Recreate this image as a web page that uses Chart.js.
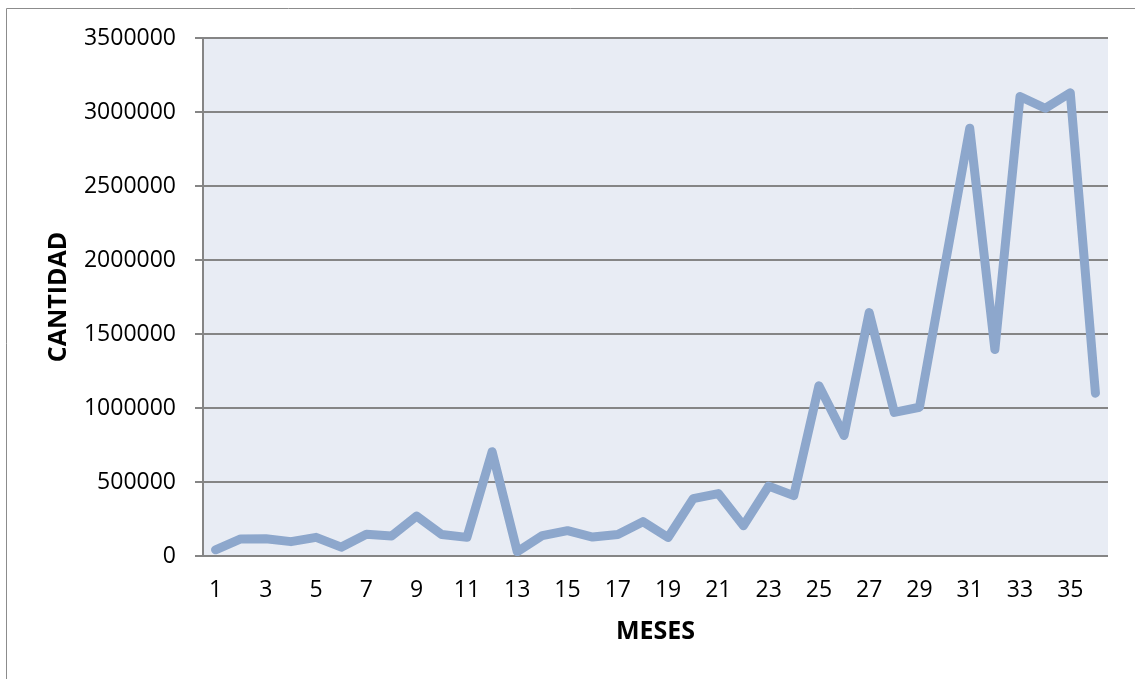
<!DOCTYPE html>
<html>
<head>
<meta charset="utf-8">
<title>CANTIDAD por MESES</title>
<script src="https://cdn.jsdelivr.net/npm/chart.js@4.4.1/dist/chart.umd.min.js"></script>
<style>
  html, body { margin: 0; padding: 0; background: #ffffff; }
  #wrap { position: relative; width: 1135px; height: 679px; }
</style>
</head>
<body>
<div id="wrap"><canvas id="chart" width="1135" height="679"></canvas></div>
<script>
// Monthly quantities, months 1..36
const meses = Array.from({ length: 36 }, (_, i) => String(i + 1));
const cantidad = [
  42000, 115000, 117000, 97000, 126000, 60000, 147000, 135000, 270000, 145000,
  126000, 705000, 29000, 138000, 171000, 128000, 145000, 232000, 125000, 388000,
  422000, 205000, 472000, 408000, 1150000, 815000, 1645000, 970000, 1005000, 1950000,
  2890000, 1395000, 3105000, 3025000, 3130000, 1100000
];
const yTicks = [0, 500000, 1000000, 1500000, 2000000, 2500000, 3000000, 3500000];

const axisTitleY = 'CANTIDAD';
const axisTitleX = 'MESES';

const GRID = '#858585';
const FONT = '"Open Sans", "Liberation Sans", sans-serif';

// Frame around the chart and the shaded plot area
const backdrop = {
  id: 'backdrop',
  beforeDraw(chart) {
    const { ctx, chartArea: a } = chart;
    ctx.save();
    ctx.strokeStyle = '#8c8c8c';
    ctx.lineWidth = 1;
    ctx.beginPath();
    ctx.moveTo(6.5, 679);
    ctx.lineTo(6.5, 8.5);
    ctx.lineTo(1135, 8.5);
    ctx.stroke();
    ctx.fillStyle = '#e8ecf4';
    ctx.fillRect(a.left, a.top, a.right - a.left, a.bottom - a.top);
    ctx.restore();
  }
};

new Chart(document.getElementById('chart'), {
  type: 'line',
  data: {
    labels: meses,
    datasets: [{
      data: cantidad,
      borderColor: '#8da7cc',
      borderWidth: 9,
      borderCapStyle: 'round',
      borderJoinStyle: 'round',
      pointRadius: 0,
      pointHoverRadius: 0,
      tension: 0,
      fill: false
    }]
  },
  options: {
    responsive: false,
    animation: false,
    events: [],
    layout: { padding: { left: 0, top: 38, right: 27, bottom: 0 } },
    plugins: {
      legend: { display: false },
      tooltip: { enabled: false },
      title: { display: false }
    },
    scales: {
      x: {
        type: 'category',
        offset: true,
        grid: { display: false, drawTicks: false, tickLength: 0 },
        border: { display: false },
        ticks: {
          autoSkip: false,
          maxRotation: 0,
          padding: 21,
          color: '#000',
          font: { family: FONT, size: 23 },
          callback: (v, i) => (i % 2 === 0 ? meses[i] : '')
        },
        title: {
          display: true,
          text: axisTitleX,
          color: '#000',
          font: { family: FONT, size: 25, weight: 'bold' },
          padding: { top: 0, bottom: 32 }
        },
        afterFit(scale) { scale.height = 123; }
      },
      y: {
        min: 0,
        max: 3500000,
        afterBuildTicks(scale) { scale.ticks = yTicks.map(v => ({ value: v })); },
        grid: { color: GRID, lineWidth: 2, tickLength: 8, tickColor: GRID, drawTicks: true },
        border: { display: true, color: GRID, width: 2 },
        ticks: {
          padding: 19,
          color: '#000',
          font: { family: FONT, size: 23 },
          callback: v => String(v)
        },
        title: {
          display: true,
          text: axisTitleY,
          color: '#000',
          font: { family: FONT, size: 25, weight: 'bold' },
          padding: { top: 44, bottom: 0 }
        },
        afterFit(scale) { scale.width = 203; }
      }
    }
  },
  plugins: [backdrop]
});
</script>
</body>
</html>
